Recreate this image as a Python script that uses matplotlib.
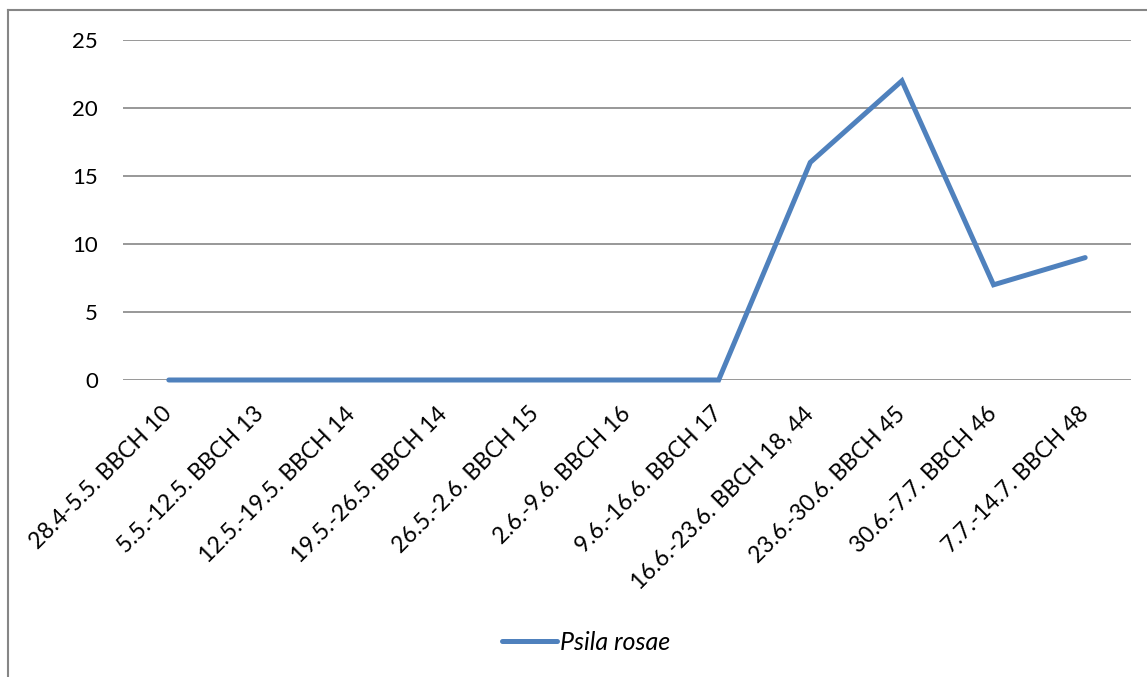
import matplotlib.pyplot as plt
from matplotlib.lines import Line2D

categories = ['28.4-5.5. BBCH 10', '5.5.-12.5. BBCH 13', '12.5.-19.5. BBCH 14',
              '19.5.-26.5. BBCH 14', '26.5.-2.6. BBCH 15', '2.6.-9.6. BBCH 16',
              '9.6.-16.6. BBCH 17', '16.6.-23.6. BBCH 18, 44', '23.6.-30.6. BBCH 45',
              '30.6.-7.7. BBCH 46', '7.7.-14.7. BBCH 48']
psila_rosae = [0, 0, 0, 0, 0, 0, 0, 16, 22, 7, 9]
yticks = [0, 5, 10, 15, 20, 25]

plt.rcParams['font.family'] = ['Lato', 'DejaVu Sans']

fig = plt.figure(figsize=(11.47, 6.77), dpi=100)
ax = fig.add_axes([123 / 1147, 297 / 677, 1008 / 1147, 340 / 677])

x = list(range(len(categories)))
line, = ax.plot(x, psila_rosae, color='#4F81BD', linewidth=3.6, solid_joinstyle='miter',
                solid_capstyle='round', label='Psila rosae', zorder=3, clip_on=False)

ax.set_xlim(-0.5, len(categories) - 0.5)
ax.set_ylim(0, 25)
ax.set_yticks(yticks)
ax.set_xticks(x)
ax.set_xticklabels(categories, rotation=45, ha='right', va='center',
                   rotation_mode='anchor', fontsize=16.5)
ax.tick_params(axis='x', length=0, pad=22)
ax.tick_params(axis='y', length=0, pad=18, labelsize=16)

ax.grid(axis='y', color='#868686', linewidth=1.2)
ax.set_axisbelow(True)
for s in ax.spines.values():
    s.set_visible(False)

fig.legend(handles=[line], loc='center', bbox_to_anchor=(586 / 1147, 1 - 642 / 677),
           frameon=False, prop={'style': 'italic', 'size': 18},
           handlelength=2.2, handletextpad=0.15)

# outer chart border (partly cropped)
fig.add_artist(Line2D([8 / 1147, 8 / 1147], [0, 1 - 10 / 677], color='#868686', lw=1.5,
                      transform=fig.transFigure))
fig.add_artist(Line2D([8 / 1147, 1], [1 - 10 / 677, 1 - 10 / 677], color='#868686', lw=1.5,
                      transform=fig.transFigure))

fig.savefig('out.png', dpi=100)
